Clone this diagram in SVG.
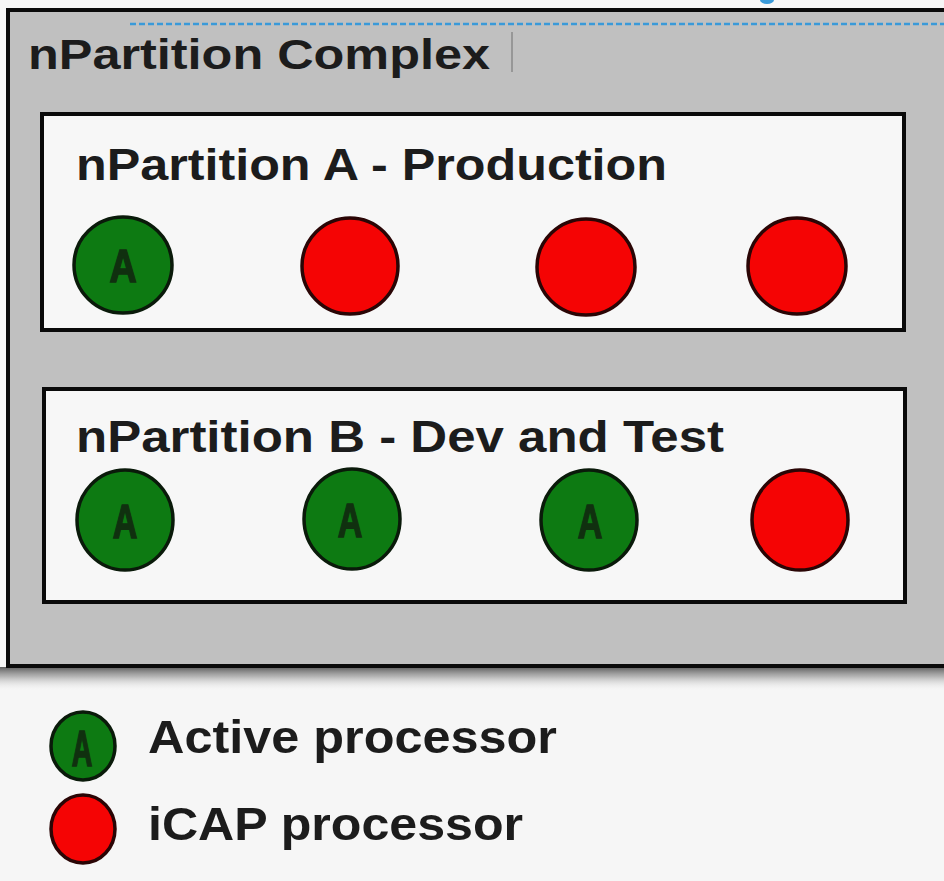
<svg xmlns="http://www.w3.org/2000/svg" width="944" height="881" viewBox="0 0 944 881">
<defs>
<linearGradient id="shadow" x1="0" y1="0" x2="0" y2="1">
<stop offset="0" stop-color="#555555" stop-opacity="0.95"/>
<stop offset="0.4" stop-color="#9a9a9a" stop-opacity="0.7"/>
<stop offset="1" stop-color="#f6f6f6" stop-opacity="0"/>
</linearGradient>
<style>
.title{font-family:"Liberation Sans",Arial,sans-serif;font-weight:bold;fill:#1c1c1c}
.part{fill:#f7f7f7;stroke:#0a0a0a;stroke-width:4}
.act{fill:#0d7a12;stroke:#0a1a0a;stroke-width:3.5}
.icap{fill:#f50404;stroke:#2a0505;stroke-width:3.5}
.alab{font-family:"Liberation Sans",Arial,sans-serif;font-weight:bold;font-size:46px;fill:#10300f;stroke:#10300f;stroke-width:1.5;text-anchor:middle}
</style>
</defs>
<rect width="944" height="881" fill="#f6f6f6"/>
<path d="M760 0 a7 4 0 0 0 14 0 z" fill="#3a9ad9"/>
<rect x="0" y="667" width="944" height="24" fill="url(#shadow)"/>
<g id="complex">
<rect x="8" y="10" width="946" height="656" fill="#c0c0c0" stroke="#0a0a0a" stroke-width="4"/>
<line x1="130" y1="24" x2="944" y2="24" stroke="#3a9ad9" stroke-width="2.5" stroke-dasharray="6,3"/>
<text class="title" x="28" y="69" font-size="42" textLength="462" lengthAdjust="spacingAndGlyphs">nPartition Complex</text>
<line x1="512" y1="32" x2="512" y2="72" stroke="#8a8a8a" stroke-width="1.5"/>
</g>
<g id="partitionA">
<rect class="part" x="42" y="114" width="862" height="216"/>
<text class="title" x="76" y="180" font-size="44" textLength="591" lengthAdjust="spacingAndGlyphs">nPartition A - Production</text>
<g id="a1"><ellipse class="act" cx="123" cy="265" rx="49" ry="48"/><text class="alab" transform="translate(123,282) scale(0.82,1)">A</text></g>
<g id="a2"><ellipse class="icap" cx="350" cy="266" rx="48" ry="48"/></g>
<g id="a3"><ellipse class="icap" cx="586" cy="267" rx="49" ry="48"/></g>
<g id="a4"><ellipse class="icap" cx="797" cy="266" rx="49" ry="48"/></g>
</g>
<g id="partitionB">
<rect class="part" x="44" y="389" width="861" height="213"/>
<text class="title" x="76" y="452" font-size="44" textLength="648" lengthAdjust="spacingAndGlyphs">nPartition B - Dev and Test</text>
<g id="b1"><ellipse class="act" cx="125" cy="520" rx="48" ry="50"/><text class="alab" transform="translate(125,538) scale(0.74,1.05)">A</text></g>
<g id="b2"><ellipse class="act" cx="352" cy="519" rx="48" ry="50"/><text class="alab" transform="translate(350,537) scale(0.74,1.05)">A</text></g>
<g id="b3"><ellipse class="act" cx="589" cy="520" rx="48" ry="50"/><text class="alab" transform="translate(590,538) scale(0.74,1.05)">A</text></g>
<g id="b4"><ellipse class="icap" cx="800" cy="520" rx="48" ry="50"/></g>
</g>
<g id="legend">
<g id="legendActive"><ellipse class="act" cx="83" cy="746" rx="32" ry="34"/><text class="alab" transform="translate(82,766) scale(0.62,1.1)">A</text>
<text class="title" x="148" y="753" font-size="47" textLength="409" lengthAdjust="spacingAndGlyphs">Active processor</text></g>
<g id="legendIcap"><ellipse class="icap" cx="83" cy="829" rx="32" ry="34"/>
<text class="title" x="148" y="840" font-size="47" textLength="375" lengthAdjust="spacingAndGlyphs">iCAP processor</text></g>
</g>
</svg>
